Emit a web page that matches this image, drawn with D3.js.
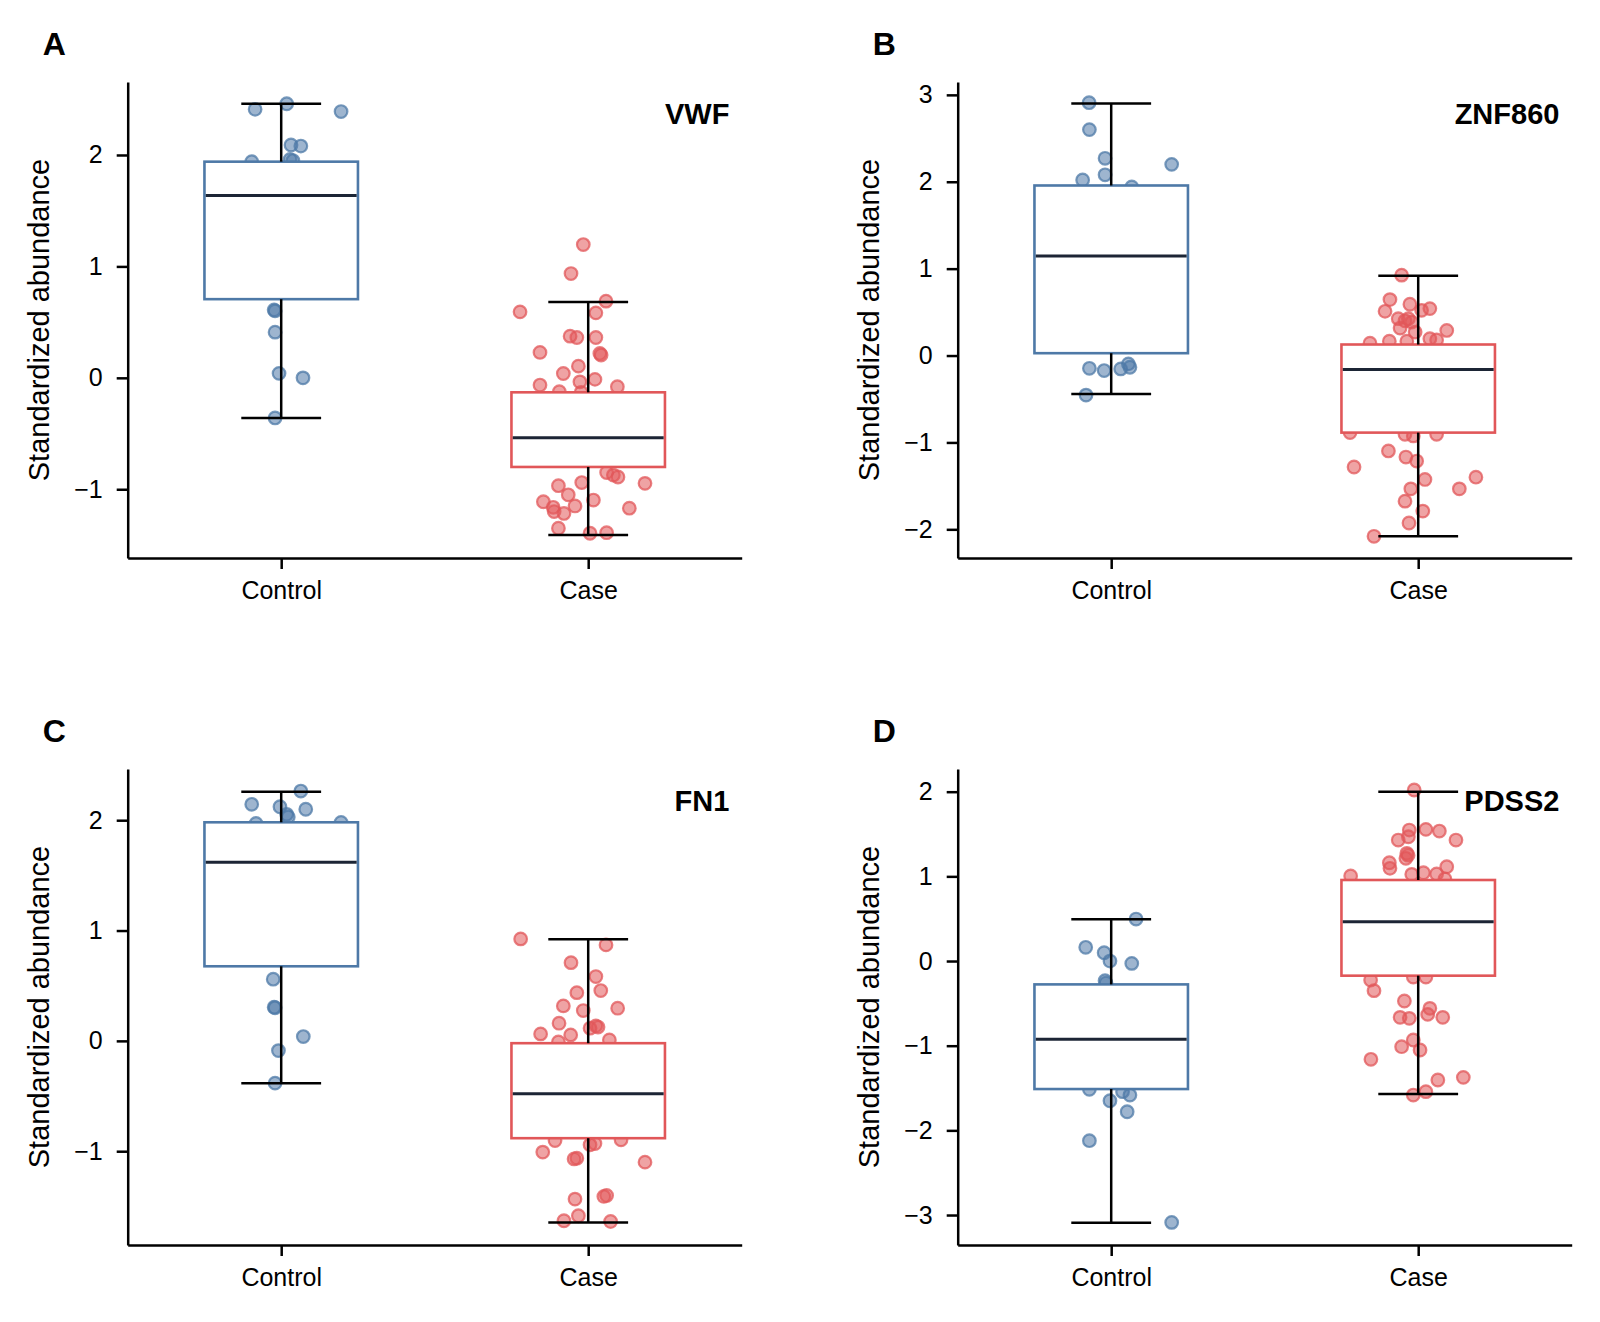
<!DOCTYPE html>
<html>
<head>
<meta charset="utf-8">
<script src="https://cdn.jsdelivr.net/npm/d3@7"></script>
<style>
  body { margin: 0; background: #fff; }
  svg { display: block; }
  text { font-family: "Liberation Sans", Arial, Helvetica, sans-serif; fill: #000; }
</style>
</head>
<body>
<svg id="chart" width="1600" height="1322"></svg>
<script>
// Categories and panel labels
const groups = ['Control', 'Case'];
const genes = ['VWF', 'ZNF860', 'FN1', 'PDSS2'];
const panelLetters = ['A', 'B', 'C', 'D'];
const yLimits = [[-1.617, 2.655], [-2.33, 3.148], [-1.85, 2.464], [-3.354, 2.268]];
const yTicks = [[-1, 0, 1, 2], [-2, -1, 0, 1, 2, 3], [-1, 0, 1, 2], [-3, -2, -1, 0, 1, 2]];

// Box stats per gene: [whiskerLow, q1, median, q3, whiskerHigh] for Control, Case
const vwfBox = [[-0.36, 0.706, 1.636, 1.94, 2.46], [-1.41, -0.80, -0.538, -0.13, 0.68]];
const znf860Box = [[-0.443, 0.027, 1.145, 1.957, 2.90], [-2.08, -0.887, -0.162, 0.127, 0.917]];
const fn1Box = [[-0.383, 0.676, 1.619, 1.981, 2.258], [-1.646, -0.882, -0.48, -0.021, 0.921]];
const pdss2Box = [[-3.09, -1.512, -0.925, -0.276, 0.492], [-1.571, -0.173, 0.464, 0.957, 2.0]];

// Points: [value, jitter (fraction of category step)]
const vwfControl = [
  [2.41, -0.085], [2.46, 0.018], [2.39, 0.195], [2.09, 0.032], [2.08, 0.064],
  [1.94, -0.096], [1.96, 0.029], [1.95, 0.038], [0.61, -0.023], [0.60, -0.02],
  [0.41, -0.02], [0.04, -0.007], [0.00, 0.071], [-0.36, -0.02]
];
const vwfCase = [
  [1.196, -0.016], [0.936, -0.056], [0.592, -0.222], [0.688, 0.058], [0.583, 0.025],
  [0.374, -0.059], [0.362, -0.037], [0.362, 0.025], [0.228, -0.157], [0.219, 0.038],
  [0.205, 0.042], [0.105, -0.032], [0.039, -0.081], [-0.036, -0.027], [-0.014, 0.022],
  [-0.065, -0.157], [-0.08, 0.095], [-0.125, -0.094], [-0.13, -0.023], [-0.873, 0.082],
  [-0.89, 0.097], [-0.85, 0.06], [-0.947, 0.185], [-0.968, -0.097], [-0.94, -0.021],
  [-1.05, -0.065], [-1.097, 0.017], [-1.112, -0.146], [-1.162, -0.114], [-1.20, -0.111],
  [-1.217, -0.079], [-1.15, -0.043], [-1.17, 0.134], [-1.35, -0.097], [-1.395, 0.006],
  [-1.39, 0.06]
];
const znf860Control = [
  [2.91, -0.072], [2.60, -0.071], [2.27, -0.02], [2.20, 0.197], [2.08, -0.02],
  [2.02, -0.093], [1.94, 0.067], [-0.147, -0.071], [-0.173, -0.023], [-0.154, 0.031],
  [-0.096, 0.056], [-0.135, 0.061], [-0.455, -0.082]
];
const znf860Case = [
  [0.925, -0.054], [0.644, -0.092], [0.509, -0.108], [0.59, -0.027], [0.54, 0.038],
  [0.52, 0.011], [0.424, -0.065], [0.424, -0.032], [0.385, -0.021], [0.40, -0.043],
  [0.316, -0.059], [0.27, -0.01], [0.289, 0.093], [0.142, -0.157], [0.165, -0.094],
  [0.165, -0.037], [0.193, 0.038], [0.18, 0.06], [-0.887, -0.222], [-0.906, -0.043],
  [-0.925, -0.016], [-0.906, 0.06], [-1.098, -0.097], [-1.168, -0.04], [-1.214, -0.005],
  [-1.283, -0.209], [-1.426, 0.022], [-1.40, 0.188], [-1.534, 0.134], [-1.534, -0.024],
  [-1.676, -0.043], [-1.79, 0.015], [-1.927, -0.03], [-2.08, -0.144]
];
const fn1Control = [
  [2.264, 0.064], [2.144, -0.096], [2.122, -0.004], [2.099, 0.08], [2.053, 0.018],
  [2.03, 0.023], [1.97, -0.082], [1.98, 0.195], [0.559, -0.026], [0.305, -0.023],
  [0.30, -0.02], [0.039, 0.072], [-0.088, -0.009], [-0.383, -0.02]
];
const fn1Case = [
  [0.924, -0.22], [0.870, 0.058], [0.709, -0.056], [0.583, 0.025], [0.456, 0.041],
  [0.437, -0.037], [0.317, -0.081], [0.275, -0.016], [0.296, 0.096], [0.136, 0.025],
  [0.125, 0.032], [0.115, 0.006], [0.160, -0.095], [0.063, -0.155], [0.054, -0.057],
  [0.009, 0.069], [-0.01, -0.097], [-0.903, -0.108], [-0.897, 0.107], [-0.942, 0.006],
  [-0.93, 0.022], [-1.008, -0.148], [-1.063, -0.037], [-1.07, -0.046], [-1.099, 0.185],
  [-1.434, -0.043], [-1.401, 0.06], [-1.41, 0.051], [-1.585, -0.032], [-1.63, -0.079],
  [-1.637, 0.073]
];
const pdss2Control = [
  [0.496, 0.081], [0.162, -0.083], [0.098, -0.023], [0.0, -0.004], [-0.028, 0.067],
  [-0.232, -0.02], [-0.26, -0.017], [-1.515, -0.071], [-1.543, 0.037], [-1.583, 0.061],
  [-1.65, -0.004], [-1.78, 0.052], [-2.122, -0.071], [-3.087, 0.197]
];
const pdss2Case = [
  [2.02, -0.013], [1.547, -0.029], [1.555, 0.025], [1.535, 0.069], [1.429, -0.065],
  [1.468, -0.032], [1.429, 0.123], [1.272, -0.037], [1.25, -0.033], [1.213, -0.04],
  [1.161, -0.094], [1.095, -0.092], [1.114, 0.093], [1.004, -0.22], [1.024, -0.021],
  [1.043, 0.017], [1.028, 0.06], [0.97, 0.087], [-0.224, -0.155], [-0.35, -0.144],
  [-0.19, -0.016], [-0.19, 0.025], [-0.472, -0.045], [-0.559, 0.038], [-0.665, -0.059],
  [-0.677, -0.029], [-0.63, 0.031], [-0.665, 0.08], [-0.933, -0.016], [-1.012, -0.054],
  [-1.051, 0.006], [-1.161, -0.154], [-1.405, 0.064], [-1.374, 0.147], [-1.583, -0.016],
  [-1.543, 0.025]
];

const pointSets = [
  [vwfControl, vwfCase], [znf860Control, znf860Case],
  [fn1Control, fn1Case], [pdss2Control, pdss2Case]
];
const boxSets = [vwfBox, znf860Box, fn1Box, pdss2Box];

// Styling
const colors = { Control: '#4e79a7', Case: '#e15759' };
const medianColor = '#1c2535';
const panelW = 614, panelH = 476;
const panelOrigins = [[127.7, 82], [957.7, 82], [127.7, 769], [957.7, 769]];

const svg = d3.select('#chart');

genes.forEach((gene, i) => {
  const [ox, oy] = panelOrigins[i];
  const g = svg.append('g').attr('transform', `translate(${ox},${oy})`);

  const x = d3.scalePoint().domain(groups).range([0, panelW]).padding(0.5);
  const y = d3.scaleLinear().domain(yLimits[i]).range([panelH, 0]);
  const step = x.step();

  // Jittered points (drawn first, box covers them)
  groups.forEach((grp, gi) => {
    g.append('g').selectAll('circle')
      .data(pointSets[i][gi])
      .enter()
      .append('circle')
      .attr('cx', d => x(grp) + d[1] * step)
      .attr('cy', d => y(d[0]))
      .attr('r', 6.3)
      .attr('fill', colors[grp])
      .attr('fill-opacity', 0.55)
      .attr('stroke', colors[grp])
      .attr('stroke-opacity', 0.75)
      .attr('stroke-width', 2.2);
  });

  // Boxes, whiskers, caps, medians
  groups.forEach((grp, gi) => {
    const [lo, q1, med, q3, hi] = boxSets[i][gi];
    const cx = x(grp);
    const bw = 0.5 * step;
    const cw = 0.26 * step;
    const bg = g.append('g');
    bg.append('rect')
      .attr('x', cx - bw / 2)
      .attr('y', y(q3))
      .attr('width', bw)
      .attr('height', y(q1) - y(q3))
      .attr('fill', '#fff')
      .attr('stroke', colors[grp])
      .attr('stroke-width', 2.6);
    bg.selectAll('line.whisker')
      .data([[q3, hi], [q1, lo]])
      .enter()
      .append('line')
      .attr('x1', cx).attr('x2', cx)
      .attr('y1', d => y(d[0])).attr('y2', d => y(d[1]))
      .attr('stroke', '#000').attr('stroke-width', 2.5);
    bg.selectAll('line.cap')
      .data([lo, hi])
      .enter()
      .append('line')
      .attr('x1', cx - cw / 2).attr('x2', cx + cw / 2)
      .attr('y1', d => y(d)).attr('y2', d => y(d))
      .attr('stroke', '#000').attr('stroke-width', 2.5);
    bg.append('line')
      .attr('x1', cx - bw / 2 + 1.3).attr('x2', cx + bw / 2 - 1.3)
      .attr('y1', y(med)).attr('y2', y(med))
      .attr('stroke', medianColor).attr('stroke-width', 3);
  });

  // Axes
  const yAxis = g.append('g')
    .call(d3.axisLeft(y).tickValues(yTicks[i]).tickFormat(d3.format('d'))
      .tickSize(11).tickSizeOuter(0).tickPadding(14));
  const xAxis = g.append('g')
    .attr('transform', `translate(0,${panelH})`)
    .call(d3.axisBottom(x).tickSize(11).tickSizeOuter(0).tickPadding(12));
  [yAxis, xAxis].forEach(ax => {
    ax.select('.domain').attr('stroke', '#000').attr('stroke-width', 2.5);
    ax.selectAll('.tick line').attr('stroke', '#000').attr('stroke-width', 2.5);
    ax.selectAll('.tick text')
      .attr('font-size', 25)
      .style('font-family', '"Liberation Sans", Arial, Helvetica, sans-serif')
      .attr('fill', '#000');
  });

  // Y label
  g.append('text')
    .attr('transform', `translate(-79,${panelH / 2}) rotate(-90)`)
    .attr('text-anchor', 'middle')
    .attr('font-size', 29)
    .text('Standardized abundance');

  // Gene title inside axes
  g.append('text')
    .attr('x', panelW * 0.98)
    .attr('y', 41.6)
    .attr('text-anchor', 'end')
    .attr('font-size', 29)
    .attr('font-weight', 'bold')
    .text(gene);

  // Panel letter
  g.append('text')
    .attr('x', -85)
    .attr('y', -27)
    .attr('font-size', 32)
    .attr('font-weight', 'bold')
    .text(panelLetters[i]);
});
</script>
</body>
</html>
